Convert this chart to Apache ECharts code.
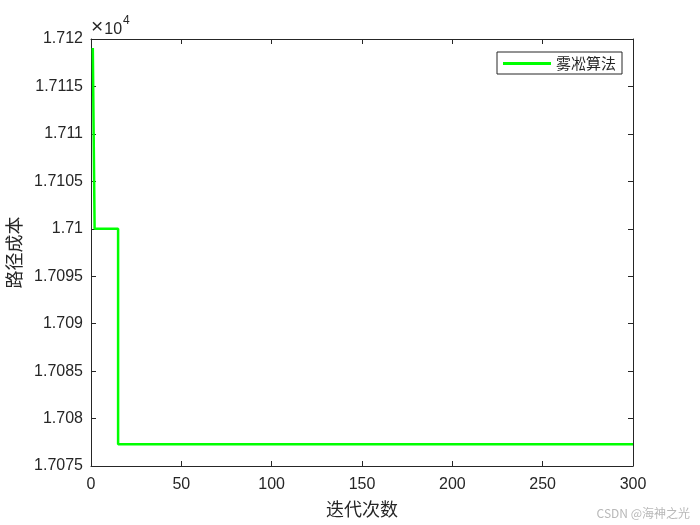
<!DOCTYPE html>
<html><head><meta charset="utf-8">
<script src="https://cdn.jsdelivr.net/npm/echarts@6/dist/echarts.min.js"></script>
<style>html,body{margin:0;padding:0;background:#fff}#c{width:700px;height:525px}</style>
</head><body><div id="c"></div>
<script>
// breakpoints of the convergence curve (iteration, cost) drawn as a step line
var iterations = [1, 2, 15, 300];
var costs = [17119.05, 17100.0, 17077.3, 17077.3];
var seriesName = '雾凇算法';
var xTitle = '迭代次数';
var yTitle = '路径成本';
var yTickLabels = ['1.7075','1.708','1.7085','1.709','1.7095','1.71','1.7105','1.711','1.7115','1.712'];

var data = iterations.map(function(x, i){ return [x, costs[i]]; });
var axisColor = '#262626';
var chart = echarts.init(document.getElementById('c'), null, {renderer:'canvas'});
var labelFont = {color: axisColor, fontSize: 16, fontFamily: 'Liberation Sans, Arial, sans-serif'};
chart.setOption({
  animation: false,
  backgroundColor: '#fff',
  grid: {left: 91, right: 67, top: 39, bottom: 59, containLabel: false, outerBoundsMode: 'none'},
  legend: {
    data: [{name: seriesName, icon: 'rect'}],
    left: 497, top: 52,
    itemWidth: 48, itemHeight: 3,
    itemGap: 5,
    padding: [4, 6, 3, 6],
    borderColor: axisColor, borderWidth: 1, borderRadius: 0,
    backgroundColor: '#fff',
    textStyle: {color: axisColor, fontSize: 15, fontFamily: 'Noto Sans CJK SC, sans-serif'}
  },
  xAxis: [{
    type: 'value', min: 0, max: 300, interval: 50,
    name: xTitle, nameLocation: 'middle', nameGap: 34,
    nameTextStyle: {color: axisColor, fontSize: 18, fontFamily: 'Noto Sans CJK SC, sans-serif'},
    axisLine: {onZero: false, lineStyle: {color: axisColor, width: 1}},
    axisTick: {inside: true, length: 5, lineStyle: {color: axisColor}},
    axisLabel: Object.assign({margin: 11}, labelFont),
    splitLine: {show: false}
  }, {
    type: 'value', min: 0, max: 300, interval: 50, position: 'top',
    axisLine: {onZero: false, lineStyle: {color: axisColor, width: 1}},
    axisTick: {inside: true, length: 5, lineStyle: {color: axisColor}},
    axisLabel: {show: false}, splitLine: {show: false}
  }],
  yAxis: [{
    type: 'value', min: 17075, max: 17120, interval: 5,
    name: yTitle, nameLocation: 'middle', nameGap: 62, nameRotate: 90,
    nameTextStyle: {color: axisColor, fontSize: 18, fontFamily: 'Noto Sans CJK SC, sans-serif'},
    axisLine: {onZero: false, lineStyle: {color: axisColor, width: 1}},
    axisTick: {inside: true, length: 5, lineStyle: {color: axisColor}},
    axisLabel: Object.assign({margin: 8, formatter: function(v){
      var i = Math.round((v - 17075) / 5); return yTickLabels[i] || ''; }}, labelFont),
    splitLine: {show: false}
  }, {
    type: 'value', min: 17075, max: 17120, interval: 5, position: 'right',
    axisLine: {onZero: false, lineStyle: {color: axisColor, width: 1}},
    axisTick: {inside: true, length: 5, lineStyle: {color: axisColor}},
    axisLabel: {show: false}, splitLine: {show: false}
  }],
  series: [{
    name: seriesName, type: 'line', step: 'end', data: data,
    showSymbol: false, symbol: 'none',
    lineStyle: {color: '#00ff00', width: 2.5},
    itemStyle: {color: '#00ff00'}
  }],
  graphic: [{
    type: 'text', left: 91, top: 15,
    style: {
      text: '{x|×}{a|10}{b|4}',
      rich: {
        x: {fontSize: 21, fill: axisColor, fontFamily: 'Liberation Sans, Arial, sans-serif', verticalAlign: 'bottom', padding: [0,1,0,0]},
        a: {fontSize: 16, fill: axisColor, fontFamily: 'Liberation Sans, Arial, sans-serif', verticalAlign: 'bottom'},
        b: {fontSize: 12, fill: axisColor, fontFamily: 'Liberation Sans, Arial, sans-serif', verticalAlign: 'top', padding: [0,0,11,1]}
      }
    }
  }, {
    type: 'text', right: 10, bottom: 6,
    style: {text: 'CSDN @海神之光', fontSize: 12, fill: '#b8b8b8', fontFamily: 'Noto Sans CJK SC, sans-serif'}
  }]
});
</script></body></html>
